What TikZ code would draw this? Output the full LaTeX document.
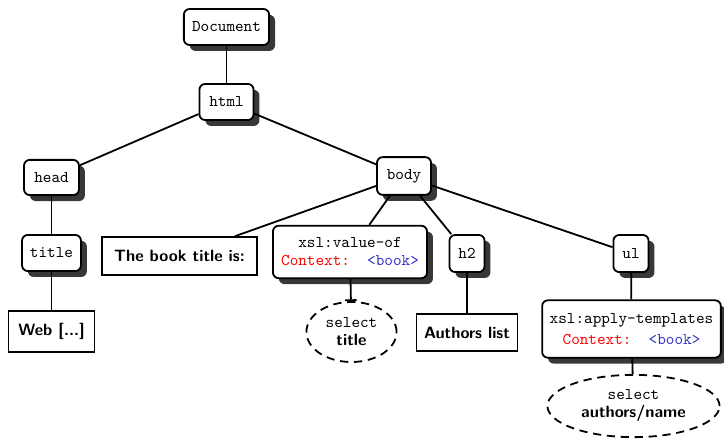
\documentclass[tikz,border=0pt]{standalone}
\usetikzlibrary{shadows,shapes.geometric,arrows.meta}
\definecolor{ctxred}{RGB}{255,0,0}
\definecolor{ctxblue}{RGB}{50,50,200}
\begin{document}
\begin{tikzpicture}[x=0.61pt,y=-0.61pt,
  every node/.style={line width=1.1pt},
  tag/.style={draw,fill=white,rounded corners=3.5pt,font=\ttfamily,inner sep=0pt,
    minimum height=22pt,
    drop shadow={shadow xshift=3.6pt,shadow yshift=-3.6pt,fill=black!78,opacity=1}},
  xslbox/.style={tag,align=center,minimum height=32pt},
  txtbox/.style={draw,fill=white,font=\sffamily\bfseries,inner sep=0pt,minimum height=23pt},
  sel/.style={draw,ellipse,dash pattern=on 5pt off 3.5pt,inner sep=0pt,align=center},
  conn/.style={line width=1.1pt}]
\useasboundingbox (0,0) rectangle (724,439);
% nodes
\node[tag,minimum width=52pt] (doc) at (226.5,27) {Document};
\node[tag,minimum width=33pt] (html) at (226.5,102) {html};
\node[tag,minimum width=33.5pt,minimum height=21.5pt] (head) at (51.5,177.5) {head};
\node[tag,minimum width=33pt,minimum height=23pt] (body) at (404,176) {body};
\node[tag,minimum width=36pt] (title) at (51.5,253) {title};
\node[txtbox,minimum width=94.5pt] (btitle) at (179.5,256) {The book title is:};
\node[xslbox,minimum width=94pt] (valof) at (350,252) {xsl:value-of\\[-1pt]{\color{ctxred}Context:}~~{\color{ctxblue}<book>}};
\node[tag,minimum width=21.4pt,minimum height=22.6pt] (h2) at (467,253.5) {h2};
\node[tag,minimum width=21.4pt,minimum height=22.6pt] (ul) at (631,253.5) {ul};
\node[txtbox,minimum width=52.5pt,minimum height=25pt] (web) at (51.5,331.5) {Web [...]};
\node[sel,minimum width=55pt,minimum height=36.6pt] (seltitle) at (351.5,332) {\ttfamily select\\[-1pt]\sffamily\bfseries title};
\node[txtbox,minimum width=61.6pt,minimum height=22.6pt] (authors) at (467,332.5) {Authors list};
\node[xslbox,minimum width=109pt,minimum height=35pt] (apply) at (631.5,329) {xsl:apply-templates\\[1pt]{\color{ctxred}Context:}~~{\color{ctxblue}<book>}};
\node[sel,minimum width=105pt,minimum height=38pt] (selauth) at (633.5,406) {\ttfamily select\\[-1pt]\sffamily\bfseries authors/name};
% connectors
\draw[conn] (doc) -- (html);
\draw[conn] (html) -- (head);
\draw[conn] (html) -- (body);
\draw[conn] (head) -- (title);
\draw[conn] (title) -- (web);
\draw[conn] (body) -- (btitle);
\draw[conn] (body) -- (valof);
\draw[conn] (body) -- (h2);
\draw[conn] (body) -- (ul);
\draw[conn,-{Bar[width=7pt,line width=1.1pt]}] (valof) -- (seltitle);
\draw[conn] (h2) -- (authors);
\draw[conn] (ul) -- (apply);
\draw[conn] (apply) -- (selauth);
\end{tikzpicture}
\end{document}
